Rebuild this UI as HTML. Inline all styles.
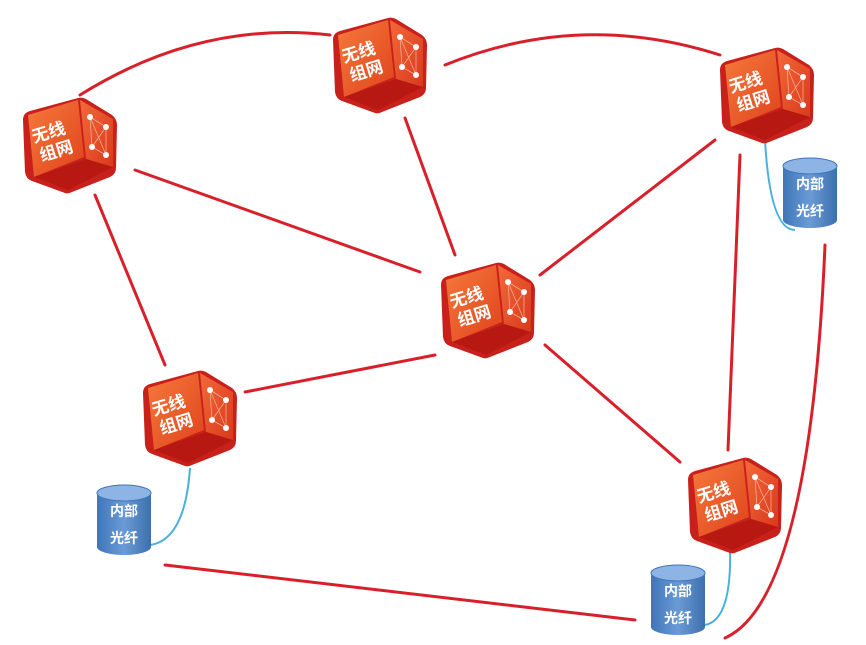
<!DOCTYPE html>
<html><head><meta charset="utf-8"><style>
body{margin:0;background:#fff;}
svg{display:block;}
text{font-family:"Liberation Sans","Noto Sans CJK SC",sans-serif;font-weight:bold;}
</style></head><body>
<svg width="866" height="645" viewBox="0 0 866 645" xmlns="http://www.w3.org/2000/svg">
<defs>
<linearGradient id="lf" x1="0" y1="0" x2="1" y2="1"><stop offset="0" stop-color="#f57a3c"/><stop offset="1" stop-color="#e0421c"/></linearGradient>
<linearGradient id="rf" x1="0" y1="0" x2="1" y2="1"><stop offset="0" stop-color="#f3693a"/><stop offset="1" stop-color="#d93a1c"/></linearGradient>
<linearGradient id="cy" x1="0" y1="0" x2="1" y2="0"><stop offset="0" stop-color="#3f76b8"/><stop offset="0.5" stop-color="#6a9bd6"/><stop offset="1" stop-color="#3d6fae"/></linearGradient>
<g id="cube">
<path d="M45,98 L12,86 Q6,84 5,77 L3,25 Q3,18 10,16 L58,3 Q62,2 66,4 L92,20 Q97,24 97,30 L96,73 Q96,79 90,82 L52,97 Q48,99 45,98Z" fill="#c8201a"/>
<path d="M8,20 L58,5 L64,62 L14,82Z" fill="url(#lf)"/>
<path d="M60,5 L93,24 L93,72 L66,64Z" fill="url(#rf)"/>
<path d="M14,82 L66,64 L93,72 L48,95Z" fill="#b81812"/>
<g stroke="#f8c0a8" stroke-width="0.8" fill="none" opacity="0.8"><path d="M70,22 L86,32 L86,60 L72,52Z M70,22 L86,60 M86,32 L72,52"/></g>
<g fill="#fff"><circle cx="70" cy="22" r="3"/><circle cx="86" cy="32" r="3"/><circle cx="72" cy="52" r="3"/><circle cx="86" cy="60" r="3"/></g>
<g transform="rotate(-17 34 45)" fill="#fff" font-size="17"><text x="14" y="42">无线</text><text x="16" y="62">组网</text></g>
</g>
<g id="cyl">
<path d="M0,8 L0,62 A27,8 0 0 0 54,62 L54,8Z" fill="url(#cy)"/>
<ellipse cx="27" cy="8" rx="27" ry="8" fill="#8db4e4" stroke="#3f76b8"/>
<text x="27" y="31" text-anchor="middle" fill="#fff" font-size="14" font-weight="normal">内部</text>
<text x="27" y="58" text-anchor="middle" fill="#fff" font-size="14" font-weight="normal">光纤</text>
</g>
</defs>
<g stroke="#d8202a" stroke-width="3" fill="none" stroke-linecap="round">
<path d="M80,95 Q200,20 330,35"/>
<path d="M445,65 Q580,10 720,55"/>
<path d="M135,170 L420,272"/>
<path d="M405,118 L455,255"/>
<path d="M715,140 L540,275"/>
<path d="M95,195 L165,365"/>
<path d="M245,392 L435,355"/>
<path d="M545,345 L680,462"/>
<path d="M740,155 L728,450"/>
<path d="M825,245 Q810,600 725,638"/>
<path d="M165,565 L635,620"/>
</g>
<g stroke="#4ab0e0" stroke-width="2" fill="none">
<path d="M765,140 Q770,230 795,230"/>
<path d="M190,468 Q185,540 150,545"/>
<path d="M730,548 Q732,620 705,625"/>
</g>
<use href="#cube" x="20" y="95"/>
<use href="#cube" x="330" y="15"/>
<use href="#cube" x="717" y="45"/>
<use href="#cube" x="438" y="260"/>
<use href="#cube" x="140" y="368"/>
<use href="#cube" x="685" y="455"/>
<use href="#cyl" x="783" y="158"/>
<use href="#cyl" x="97" y="485"/>
<use href="#cyl" x="651" y="565"/>
</svg>
</body></html>
